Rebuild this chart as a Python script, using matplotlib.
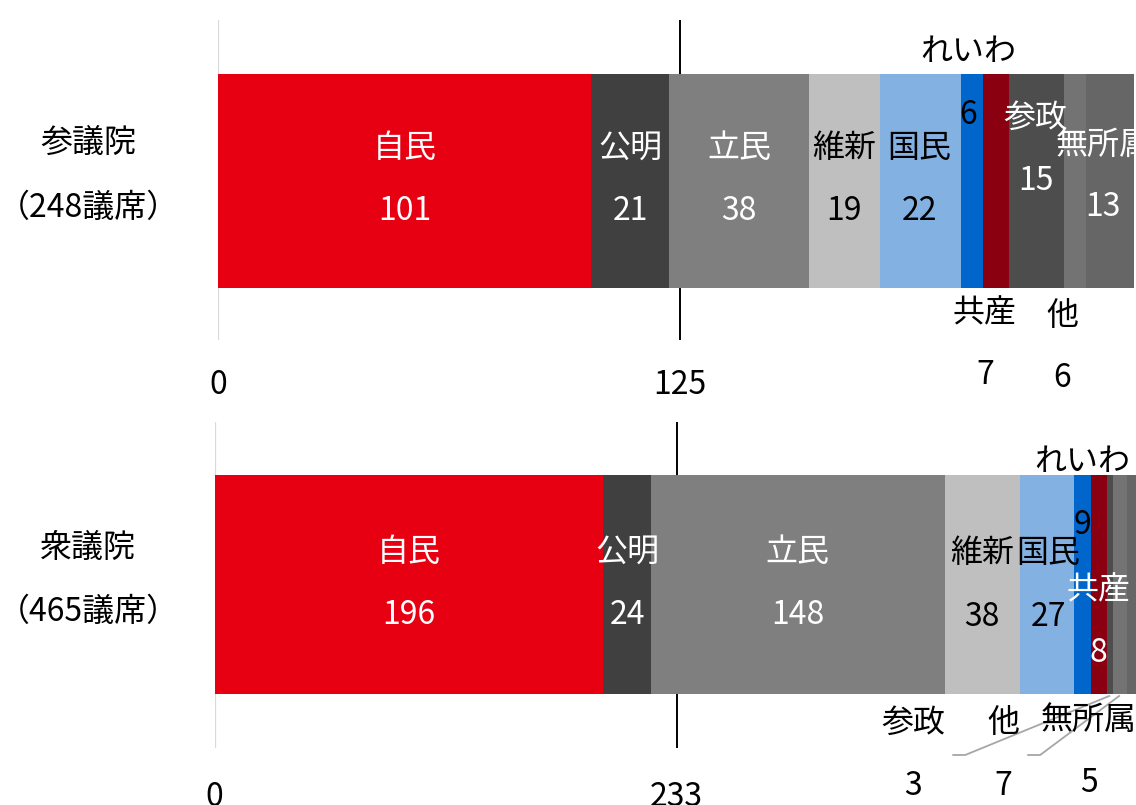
import matplotlib.pyplot as plt

plt.rcParams['font.family'] = ['Noto Sans CJK JP', 'DejaVu Sans']

# --- data ---
parties = ['自民', '公明', '立民', '維新', '国民', 'れいわ', '共産', '参政', '他', '無所属']
colors = ['#E60012', '#404040', '#7F7F7F', '#BFBFBF', '#83B2E2',
          '#0066CC', '#8A0010', '#4D4D4D', '#737373', '#666666']

upper_seats = [101, 21, 38, 19, 22, 6, 7, 15, 6, 13]   # 参議院
lower_seats = [196, 24, 148, 38, 27, 9, 8, 3, 7, 5]    # 衆議院
upper_total, lower_total = 248, 465
upper_majority, lower_majority = 125, 233

# label layout per party: (dx in px from segment centre, name y px, value y px, colour)
upper_labels = {
    '自民': (0, 148, 211, 'white'),
    '公明': (0, 148, 211, 'white'),
    '立民': (0, 148, 211, 'white'),
    '維新': (0, 148, 211, 'black'),
    '国民': (-1, 148, 211, 'black'),
    'れいわ': (-4, 52, 115, 'black'),
    '共産': (-11, 313, 375, 'black'),
    '参政': (-1, 118, 181, 'white'),
    '他': (-13, 316, 378, 'black'),
    '無所属': (-7, 145, 207, 'white'),
}
lower_labels = {
    '自民': (0, 552, 615, 'white'),
    '公明': (0, 552, 615, 'white'),
    '立民': (0, 552, 615, 'white'),
    '維新': (0, 553, 617, 'black'),
    '国民': (2, 553, 617, 'black'),
    'れいわ': (0, 462, 525, 'black'),
    '共産': (-1, 590, 653, 'white'),
    '参政': (-197, 723, 786, 'black'),
    '他': (-117, 723, 786, 'black'),
    '無所属': (-43, 720, 783, 'black'),
}

W, H = 1136, 805
fig = plt.figure(figsize=(W / 100, H / 100), dpi=100)
FS = 23


def draw_panel(seats, total, majority, house, n_label, left, right, top, bottom,
               bar_top, bar_bot, tick_y, labels, leaders=()):
    ax = fig.add_axes([left / W, 1 - bottom / H, (right - left) / W, (bottom - top) / H])
    ax.set_xlim(0, total)
    ax.set_ylim(bottom, top)  # y in pixel units, top-down
    ax.axis('off')
    ppx = (right - left) / total

    ax.axvline(0, color='#D9D9D9', lw=1.6, zorder=0)
    ax.axvline(majority, color='black', lw=1.4, zorder=0)

    yc = (bar_top + bar_bot) / 2
    cum = 0
    centres = {}
    for p, s, c in zip(parties, seats, colors):
        ax.barh(yc, s, left=cum, height=bar_bot - bar_top, color=c, zorder=2)
        centres[p] = cum + s / 2
        cum += s

    for p, s in zip(parties, seats):
        dx, ny, vy, col = labels[p]
        x = centres[p] + dx / ppx
        ax.text(x, ny, p, ha='center', va='center', fontsize=FS, color=col,
                zorder=3, clip_on=False)
        ax.text(x, vy, str(s), ha='center', va='center', fontsize=FS, color=col,
                zorder=3, clip_on=False)

    for p, d1, d2, ly in leaders:
        lx = centres[p] + labels[p][0] / ppx
        ax.plot([centres[p] - 1 / ppx, lx + d1 / ppx, lx + d2 / ppx],
                [bar_bot + 2, ly, ly], color='#A6A6A6', lw=1.3, zorder=1,
                clip_on=False)

    for v in (0, majority):
        ax.text(v, tick_y, str(v), ha='center', va='center', fontsize=FS,
                color='black', clip_on=False)

    fig.text(88 / W, 1 - n_label[0] / H, house, ha='center', va='center', fontsize=FS)
    fig.text(88 / W, 1 - n_label[1] / H, f'（{total}議席）', ha='center', va='center',
             fontsize=FS)


draw_panel(upper_seats, upper_total, upper_majority, '参議院', (143, 208),
           218.3, 1134.4, 20, 340, 74, 288, 385, upper_labels)
draw_panel(lower_seats, lower_total, lower_majority, '衆議院', (548, 612),
           214.5, 1137.0, 422, 748, 475, 694, 797, lower_labels,
           leaders=[('参政', 52, 40, 755), ('他', 37, 25, 755)])

fig.savefig('out.png', dpi=100)
